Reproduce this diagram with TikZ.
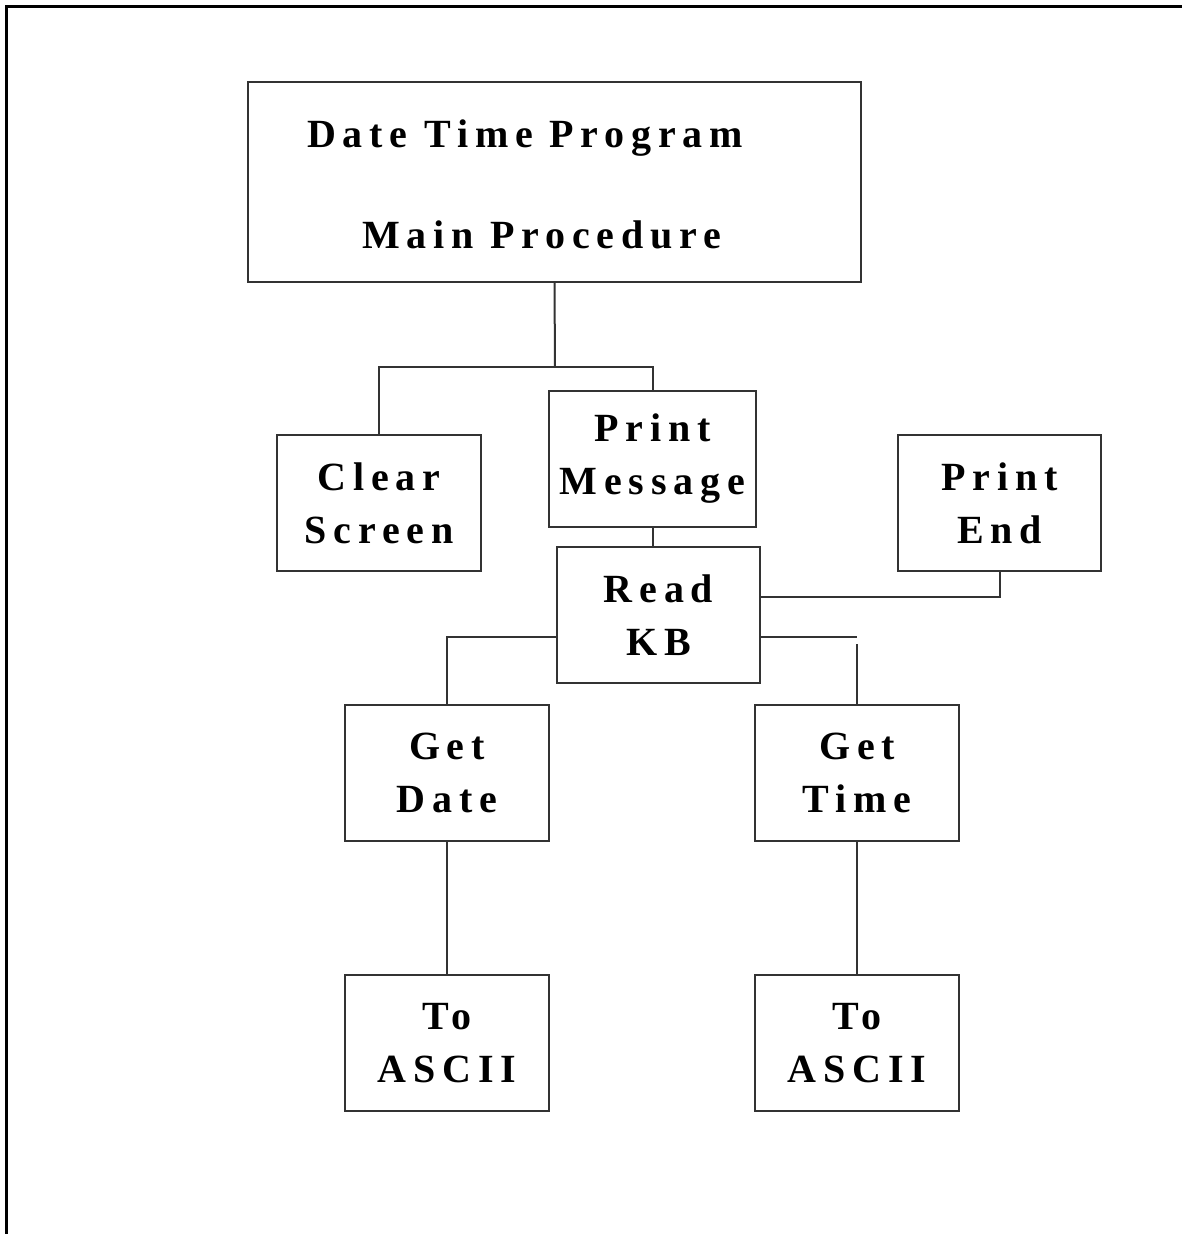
\documentclass[tikz,border=0pt]{standalone}
\usepackage{fontspec}
\usepackage{tikz}
\usetikzlibrary{calc}
\newfontfamily\chartfont{Liberation Serif}[LetterSpace=17]

\tikzset{
    modbox/.style={draw=black!80, line width=2pt, minimum width=204pt, minimum height=136pt,
        align=center, inner sep=0pt, font=\chartfont\bfseries\fontsize{40}{53}\selectfont},
    modtext/.style={anchor=base west, inner sep=0pt, font=\chartfont\bfseries\fontsize{40}{53}\selectfont},
    link/.style={draw=black!80, line width=2pt},
}

\begin{document}
\begin{tikzpicture}[x=1pt, y=-1pt]
    \useasboundingbox (0,0) rectangle (1182,1234);
    \draw [line width=3pt] (6.5,1234) -- (6.5,6.5) -- (1182,6.5);

    % top module
    \node [modbox, minimum width=613pt, minimum height=200pt] (main) at (554.5, 182) {};
    \node [modtext] (mtitle) at (307, 147) {Date Time Program};
    \node [modtext] (msub) at (362, 248) {Main Procedure};

    % called modules
    \node [modbox] (clear) at (379, 503) {Clear\\Screen};
    \node [modbox, minimum width=207pt] (pmsg) at (652.5, 459) {Print\\Message};
    \node [modbox, minimum width=203pt] (pend) at (999.5, 503) {Print\\End};
    \node [modbox, minimum width=203pt] (readkb) at (658.5, 615) {Read\\KB};
    \node [modbox] (gdate) at (447, 773) {Get\\Date};
    \node [modbox] (gtime) at (857, 773) {Get\\Time};
    \node [modbox] (ascd) at (447, 1043) {To\\ASCII};
    \node [modbox] (asct) at (857, 1043) {To\\ASCII};

    \coordinate (bus) at (555, 367);
    \coordinate (kbl) at ([yshift=-22pt]readkb.west);
    \coordinate (kbr) at ([yshift=-22pt]readkb.east);

    \draw [link] (main.south) -- (bus);
    \draw [link] (clear.north) |- (bus) -| (pmsg.north);
    \draw [link] (pmsg.south) -- (pmsg.south |- readkb.north);
    \draw [link] (pend.south) |- ([yshift=18pt]readkb.east);
    \draw [link] (kbl) -| (gdate.north);
    \draw [link] (kbr) -- (kbr -| gtime.north);
    \draw [link] ($(kbr -| gtime.north)+(0,7)$) -- (gtime.north);
    \draw [link] (gdate.south) -- (ascd.north);
    \draw [link] (gtime.south) -- (asct.north);

\end{tikzpicture}
\end{document}
